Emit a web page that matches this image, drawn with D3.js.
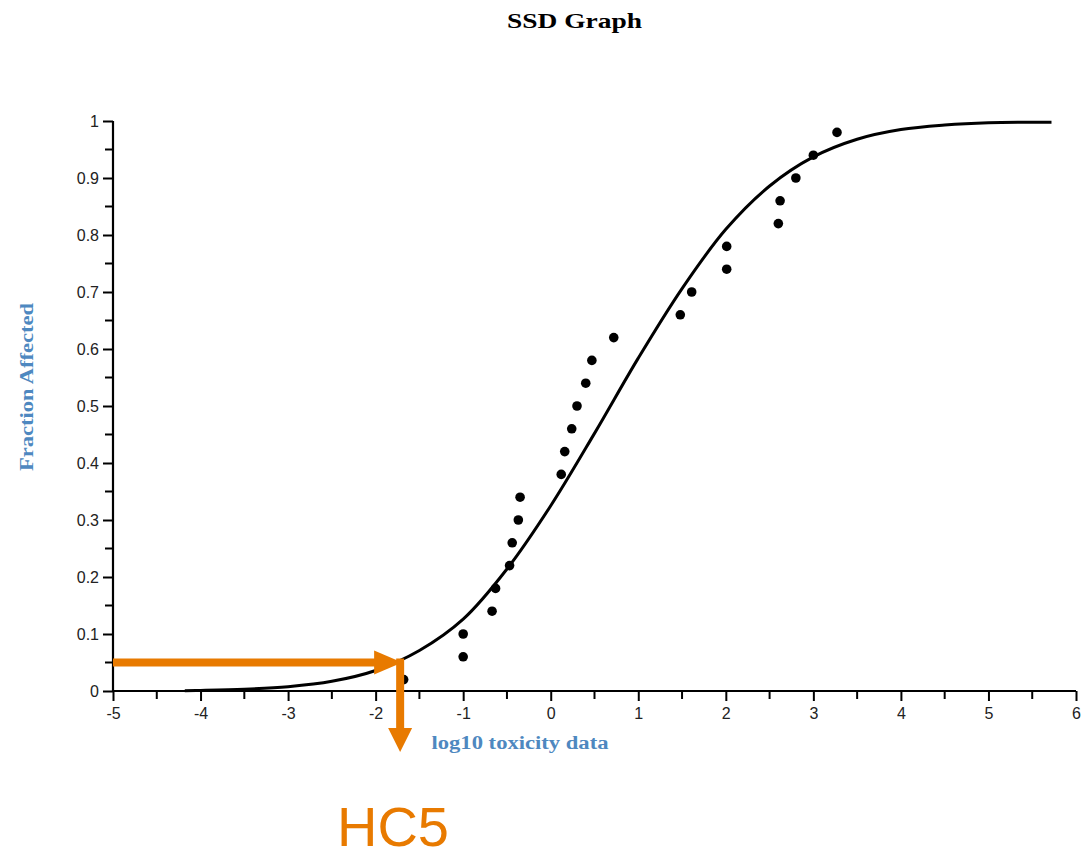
<!DOCTYPE html>
<html>
<head>
<meta charset="utf-8">
<script src="https://cdn.jsdelivr.net/npm/d3@7/dist/d3.min.js"></script>
<style>
  html, body { margin: 0; padding: 0; background: #fff; }
  svg { display: block; }
</style>
</head>
<body>
<svg id="chart" width="1092" height="858"></svg>
<script>
// ---- data ----
const pointX = [-1.68, -1.0, -1.0, -0.67, -0.63, -0.47, -0.44, -0.37, -0.35, 0.12, 0.16, 0.24, 0.30, 0.40, 0.47, 0.72, 1.48, 1.61, 2.01, 2.01, 2.60, 2.62, 2.80, 3.00, 3.27];
const pointY = [0.02, 0.06, 0.10, 0.14, 0.18, 0.22, 0.26, 0.30, 0.34, 0.38, 0.42, 0.46, 0.50, 0.54, 0.58, 0.62, 0.66, 0.70, 0.74, 0.78, 0.82, 0.86, 0.90, 0.94, 0.98];
const curveX = [-4.18, -4.0, -3.5, -3.0, -2.5, -2.0, -1.5, -1.0, -0.5, 0.0, 0.5, 1.0, 1.5, 2.0, 2.5, 3.0, 3.5, 4.0, 4.5, 5.0, 5.72];
const curveY = [0.0006, 0.001, 0.003, 0.0075, 0.017, 0.036, 0.071, 0.126, 0.214, 0.325, 0.452, 0.584, 0.706, 0.81, 0.886, 0.937, 0.968, 0.985, 0.993, 0.997, 0.998];
const xTicks = [-5, -4, -3, -2, -1, 0, 1, 2, 3, 4, 5, 6];
const yTicks = [0, 0.1, 0.2, 0.3, 0.4, 0.5, 0.6, 0.7, 0.8, 0.9, 1];
const hc5X = -1.72;
const hc5P = 0.05;
const titleText = "SSD Graph";
const xLabel = "log10 toxicity data";
const yLabel = "Fraction Affected";
const hcLabel = "HC5";

// ---- layout ----
const svg = d3.select("#chart");
const x = d3.scaleLinear().domain([-5, 6]).range([113, 1076]);
const y = d3.scaleLinear().domain([0, 1]).range([691, 121]);
const orange = "#e87a00";
const blue = "#4e88c0";

// title
svg.append("text")
  .attr("x", 574.5).attr("y", 28)
  .attr("text-anchor", "middle")
  .attr("font-family", "'Liberation Serif', 'Times New Roman', serif")
  .attr("font-weight", "bold")
  .attr("font-size", 22)
  .attr("textLength", 135).attr("lengthAdjust", "spacingAndGlyphs")
  .attr("fill", "#000")
  .text(titleText);

const xMinor = d3.range(-4.5, 6, 1);
const yMinor = d3.range(0.05, 1, 0.1);
const fmtX = d => String(d);               // plain hyphen-minus like the reference
const fmtY = d => (d === 0 || d === 1) ? String(d) : d.toFixed(1);

// X axis
const xAxisG = svg.append("g").attr("transform", `translate(0,${y(0)})`);
xAxisG.call(d3.axisBottom(x).tickValues(xTicks).tickSize(10).tickPadding(7).tickFormat(fmtX));
xAxisG.append("g").selectAll("line").data(xMinor).join("line")
  .attr("x1", d => x(d)).attr("x2", d => x(d))
  .attr("y1", 0).attr("y2", 8)
  .attr("stroke", "#000").attr("stroke-width", 2);

// Y axis
const yAxisG = svg.append("g").attr("transform", `translate(${x(-5)},0)`);
yAxisG.call(d3.axisLeft(y).tickValues(yTicks).tickSize(10).tickPadding(4).tickFormat(fmtY));
yAxisG.append("g").selectAll("line").data(yMinor).join("line")
  .attr("x1", 0).attr("x2", -8)
  .attr("y1", d => y(d)).attr("y2", d => y(d))
  .attr("stroke", "#000").attr("stroke-width", 2);

[xAxisG, yAxisG].forEach(g => {
  g.select(".domain").attr("stroke", "#000").attr("stroke-width", 2.2);
  g.selectAll(".tick line").attr("stroke", "#000").attr("stroke-width", 2);
  g.selectAll(".tick text")
    .attr("font-family", "'Liberation Sans', Arial, sans-serif")
    .attr("font-size", 16)
    .attr("fill", "#222");
});
xAxisG.select(".domain").attr("d", `M${x(-5)},0H${x(6)}`);
yAxisG.select(".domain").attr("d", `M0,${y(0)}V${y(1)}`);

// axis titles
svg.append("text")
  .attr("x", 520).attr("y", 749)
  .attr("text-anchor", "middle")
  .attr("font-family", "'Liberation Serif', 'Times New Roman', serif")
  .attr("font-weight", "bold")
  .attr("font-size", 18)
  .attr("textLength", 177).attr("lengthAdjust", "spacingAndGlyphs")
  .attr("fill", blue)
  .text(xLabel);

svg.append("text")
  .attr("transform", "translate(33,387) rotate(-90)")
  .attr("text-anchor", "middle")
  .attr("font-family", "'Liberation Serif', 'Times New Roman', serif")
  .attr("font-weight", "bold")
  .attr("font-size", 18)
  .attr("textLength", 168).attr("lengthAdjust", "spacingAndGlyphs")
  .attr("fill", blue)
  .text(yLabel);

// fitted curve
const curveData = curveX.map((d, i) => ({ x: d, y: curveY[i] }));
svg.append("path")
  .datum(curveData)
  .attr("fill", "none")
  .attr("stroke", "#000")
  .attr("stroke-width", 3)
  .attr("d", d3.line().x(d => x(d.x)).y(d => y(d.y)).curve(d3.curveCatmullRom.alpha(0.5)));

// data points
const pts = pointX.map((d, i) => ({ x: d, y: pointY[i] }));
svg.append("g").selectAll("circle").data(pts).join("circle")
  .attr("cx", d => x(d.x)).attr("cy", d => y(d.y))
  .attr("r", 4.8).attr("fill", "#000");

// HC5 arrows
const hx = x(hc5X), hy = y(hc5P);
const arrows = svg.append("g").attr("fill", orange);
arrows.append("rect")
  .attr("x", x(-5)).attr("y", hy - 4)
  .attr("width", hx + 2 - 26 - x(-5)).attr("height", 8);
arrows.append("path")
  .attr("d", `M${hx + 2 - 28},${hy - 12}L${hx + 2},${hy}L${hx + 2 - 28},${hy + 12}Z`);
arrows.append("rect")
  .attr("x", hx - 4).attr("y", hy - 4)
  .attr("width", 8).attr("height", 728 - (hy - 4));
arrows.append("path")
  .attr("d", `M${hx - 12},728L${hx},752L${hx + 12},728Z`);

// HC5 label
svg.append("text")
  .attr("x", 393).attr("y", 846)
  .attr("text-anchor", "middle")
  .attr("font-family", "'Liberation Sans', Arial, sans-serif")
  .attr("font-size", 56)
  .attr("fill", orange)
  .text(hcLabel);
</script>
</body>
</html>
